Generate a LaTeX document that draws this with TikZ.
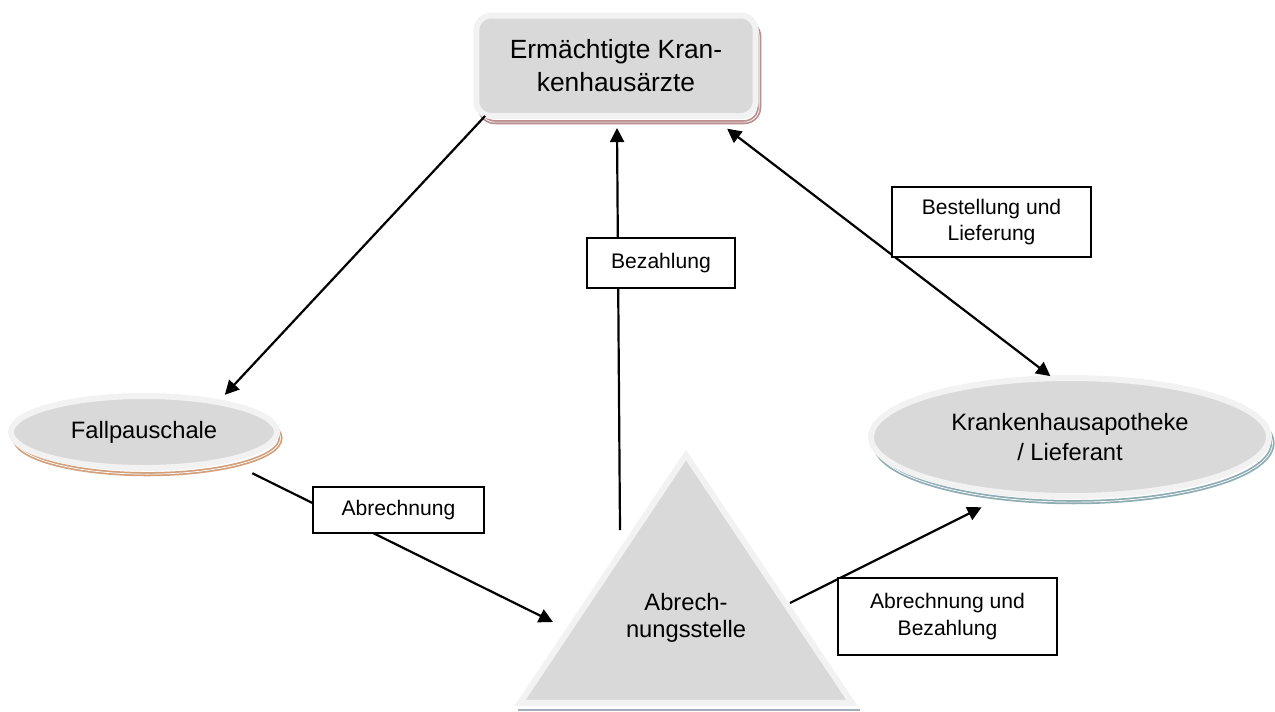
\documentclass[tikz,border=0pt]{standalone}
\usepackage{fontspec}
\setmainfont{Liberation Sans}
\usetikzlibrary{arrows.meta, shapes.geometric, calc}

\definecolor{rimgray}{HTML}{F2F2F2}
\definecolor{platefill}{HTML}{D9D9D9}
\definecolor{rosyshade}{HTML}{B98F8F}
\definecolor{tanshade}{HTML}{D3A07E}
\definecolor{blueshade}{HTML}{8EACB3}
\definecolor{baseshade}{HTML}{A3ACBD}

\begin{document}
\begin{tikzpicture}[x=0.02cm, y=-0.02cm,
    plate/.style={fill=platefill, draw=rimgray, line width=3.4pt, inner sep=0pt, outer sep=0pt, align=center},
    backshadow/.style={preaction={draw=#1, double=white, double distance=0.4pt, line width=1pt,
        transform canvas={xshift=2pt, yshift=-3.5pt}}},
    link/.style={line width=1.25pt, -{Triangle[length=8pt, width=8pt]}},
    twoway/.style={line width=1.25pt, {Triangle[length=8pt, width=8pt]}-{Triangle[length=8pt, width=8pt]}},
    tag/.style={draw, fill=white, line width=0.9pt, inner sep=0pt, align=center, font=\fontsize{12}{15}\selectfont}]
    \useasboundingbox (0,0) rectangle (1275,711);
    % Knoten
    \node[plate, backshadow=rosyshade, rounded corners=8.5pt, minimum width=5.59cm, minimum height=2.01cm,
        font=\fontsize{15}{19}\selectfont] (aerzte) at (616,65.75) {Ermächtigte Kran-\\[-0.5pt]kenhausärzte};
    \node[plate, ellipse, backshadow=tanshade, minimum width=5.32cm, minimum height=1.44cm,
        font=\fontsize{13.5}{17}\selectfont] (fall) at (144,432) {Fallpauschale};
    \node[plate, ellipse, backshadow=blueshade, minimum width=7.96cm, minimum height=2.36cm,
        font=\fontsize{13.5}{17}\selectfont] (apo) at (1070,437) {Krankenhausapotheke\\/ Lieferant};
    \draw[baseshade, line width=0.8pt] (518,710) -- (860,710);
    \node[plate, isosceles triangle, shape border rotate=90, isosceles triangle stretches,
        minimum width=6.64cm, minimum height=4.96cm, anchor=apex] (stelle) at (686,455) {};
    \node[align=center, font=\fontsize{13.5}{15.5}\selectfont] (stelletext) at (686,618) {Abrech-\\nungsstelle};
    % Pfeile
    \draw[link, shorten >=5.7pt] (aerzte.201) -- (fall.22);
    \draw[link] ($(stelle.apex)+(-66,75)$) -- ($(aerzte.south)+(1,12)$);
    \draw[twoway, shorten <=11.9pt, shorten >=2pt] (aerzte.332) -- (apo.106);
    \draw[link, shorten <=16.6pt] (fall.341) -- ($(stelle.apex)+(-133,167)$);
    \draw[link, shorten >=17.9pt] ($(stelle.apex)+(104,148)$) -- (apo.223);
    % Beschriftungen
    \node[tag, minimum width=2.96cm, minimum height=1cm] (bez) at (661,263) {Bezahlung};
    \node[tag, minimum width=3.42cm, minimum height=0.92cm] (abr) at (398.5,510) {Abrechnung};
    \node[tag, minimum width=3.98cm, minimum height=1.4cm] (best) at (991.5,222) {Bestellung und\\Lieferung};
    \node[tag, minimum width=4.38cm, minimum height=1.54cm] (abrbez) at (947.5,616.5) {Abrechnung und\\Bezahlung};
\end{tikzpicture}
\end{document}
